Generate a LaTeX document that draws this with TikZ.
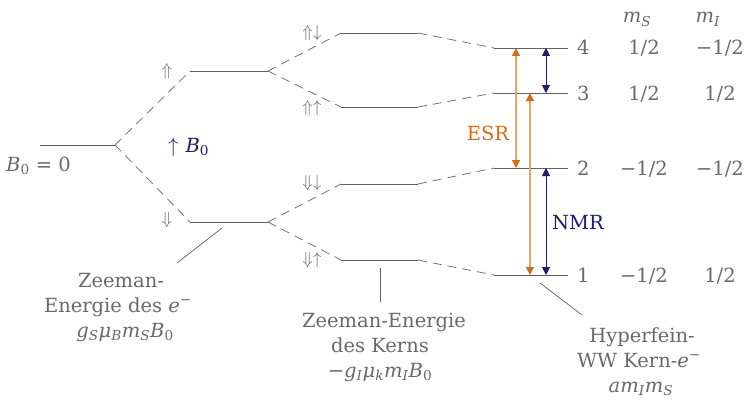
\documentclass[tikz,border=0pt]{standalone}
\usepackage{fontspec}
\setmainfont{DejaVu Serif}
\usetikzlibrary{arrows.meta}
\definecolor{tgray}{RGB}{105,105,105}
\definecolor{lgray}{RGB}{95,95,95}
\definecolor{dgray}{RGB}{115,115,115}
\definecolor{navy}{RGB}{28,28,115}
\definecolor{esr}{RGB}{215,110,20}
\definecolor{esrl}{RGB}{234,165,105}
\newcommand{\iv}[1]{\textit{#1}}
\newcommand{\sbi}[1]{\textsubscript{\textit{#1}}}
\newcommand{\sbr}[1]{\textsubscript{#1}}
\begin{document}
\begin{tikzpicture}[x=1pt,y=-1pt,
  every node/.style={inner sep=0pt, text=tgray},
  txt/.style={font=\fontsize{19.5}{25}\selectfont},
  spin/.style={font=\fontsize{19}{19}\selectfont},
  lvl/.style={draw=lgray, line width=0.9pt},
  dsh/.style={draw=dgray, line width=0.8pt, dash pattern=on 9pt off 6pt},
  ann/.style={draw=lgray, line width=0.7pt},
  esrarrow/.style={draw=esrl, line width=1.3pt,
    arrows={Triangle[width=8pt,length=8pt,color=esr]-Triangle[width=8pt,length=8pt,color=esr]}},
  nmrarrow/.style={draw=navy, line width=0.9pt,
    arrows={Triangle[width=8pt,length=8pt]-Triangle[width=8pt,length=8pt]}}
]
\useasboundingbox (0,0) rectangle (749,404);

% level coordinates
\coordinate (a0) at (40,145);  \coordinate (a1) at (115,145);
\coordinate (bu0) at (190,71); \coordinate (bu1) at (268,71);
\coordinate (bd0) at (190,222); \coordinate (bd1) at (268,222);
\coordinate (c1s) at (341,33);  \coordinate (c1e) at (418,33);
\coordinate (c2s) at (341,107); \coordinate (c2e) at (418,107);
\coordinate (c3s) at (341,184); \coordinate (c3e) at (418,184);
\coordinate (c4s) at (341,260); \coordinate (c4e) at (418,260);
\coordinate (L4s) at (494,48);  \coordinate (L4e) at (568,48);
\coordinate (L3s) at (494,93);  \coordinate (L3e) at (568,93);
\coordinate (L2s) at (494,168); \coordinate (L2e) at (568,168);
\coordinate (L1s) at (494,275); \coordinate (L1e) at (568,275);

% solid levels
\draw[lvl] (a0) -- (a1);
\draw[lvl] (bu0) -- (bu1);
\draw[lvl] (bd0) -- (bd1);
\draw[lvl] (c1s) -- (c1e);
\draw[lvl] (c2s) -- (c2e);
\draw[lvl] (c3s) -- (c3e);
\draw[lvl] (c4s) -- (c4e);
\draw[lvl] (L4s) -- (L4e);
\draw[lvl] (L3s) -- (L3e);
\draw[lvl] (L2s) -- (L2e);
\draw[lvl] (L1s) -- (L1e);

% dashed connections
\draw[dsh] (a1) -- (bu0);
\draw[dsh] (a1) -- (bd0);
\draw[dsh] (bu1) -- (c1s);
\draw[dsh] (bu1) -- (c2s);
\draw[dsh] (bd1) -- (c3s);
\draw[dsh] (bd1) -- (c4s);
\draw[dsh] (c1e) -- (L4s);
\draw[dsh] (c2e) -- (L3s);
\draw[dsh] (c3e) -- (L2s);
\draw[dsh] (c4e) -- (L1s);

% spin labels
\node[spin] (s1) at (167,71) {$\Uparrow$};
\node[spin] (s2) at (167,220) {$\Downarrow$};
\node[spin] (s3) at (312,33) {$\Uparrow\downarrow$};
\node[spin] (s4) at (312,108) {$\Uparrow\uparrow$};
\node[spin] (s5) at (312,183) {$\Downarrow\downarrow$};
\node[spin] (s6) at (312,260) {$\Downarrow\uparrow$};

% B0 labels
\node[txt, anchor=base west] (b0) at (6,171) {\iv{B}\sbr{0} = 0};
\node[txt, anchor=base west, text=navy] (bfield) at (168,152) {$\uparrow$\hspace{7pt}\iv{B}\sbr{0}};

% transitions
\coordinate (e4) at (516,48);  \coordinate (e2) at (516,168);
\coordinate (f3) at (530,93);  \coordinate (f1) at (530,275);
\coordinate (g4) at (546,48);  \coordinate (g3) at (546,93);
\coordinate (g2) at (546,168); \coordinate (g1) at (546,275);
\draw[esrarrow] (e4) -- (e2);
\draw[esrarrow] (f3) -- (f1);
\draw[nmrarrow] (g4) -- (g3);
\draw[nmrarrow] (g2) -- (g1);
\node[txt, anchor=base, text=esr] (esrlab) at (488,140) {ESR};
\node[txt, anchor=base, text=navy] (nmrlab) at (578,229) {NMR};

% level numbers and table
\node[txt, anchor=base west] (n4) at (577,55) {4};
\node[txt, anchor=base west] (n3) at (577,100) {3};
\node[txt, anchor=base west] (n2) at (577,175) {2};
\node[txt, anchor=base west] (n1) at (577,282) {1};
\node[txt, anchor=base] (hS) at (637,23) {\iv{m}\sbi{S}};
\node[txt, anchor=base] (hI) at (708,23) {\iv{m}\sbi{I}};
\node[txt, anchor=base] (r4s) at (644,55) {1/2};
\node[txt, anchor=base] (r4i) at (720,55) {−1/2};
\node[txt, anchor=base] (r3s) at (644,100) {1/2};
\node[txt, anchor=base] (r3i) at (720,100) {1/2};
\node[txt, anchor=base] (r2s) at (644,175) {−1/2};
\node[txt, anchor=base] (r2i) at (720,175) {−1/2};
\node[txt, anchor=base] (r1s) at (644,282) {−1/2};
\node[txt, anchor=base] (r1i) at (720,282) {1/2};

% annotations
\coordinate (za) at (222,228); \coordinate (zb) at (177,263);
\draw[ann] (za) -- (zb);
\node[txt, anchor=base] (ze1) at (121,287) {Zeeman-};
\node[txt, anchor=base] (ze2) at (118,312) {Energie des \iv{e}\textsuperscript{−}};
\node[txt, anchor=base] (ze3) at (125,337) {\iv{g}\sbi{S}\iv{μ}\sbi{B}\iv{m}\sbi{S}\iv{B}\sbr{0}};

\coordinate (ka) at (380,268); \coordinate (kb) at (380,302);
\draw[ann] (ka) -- (kb);
\node[txt, anchor=base] (zk1) at (384,327) {Zeeman-Energie};
\node[txt, anchor=base] (zk2) at (380,352) {des Kerns};
\node[txt, anchor=base] (zk3) at (380,377) {−\iv{g}\sbi{I}\iv{μ}\sbi{k}\iv{m}\sbi{I}\iv{B}\sbr{0}};

\coordinate (ha) at (540,283); \coordinate (hb) at (582,315);
\draw[ann] (ha) -- (hb);
\node[txt, anchor=base] (hy1) at (642,342) {Hyperfein-};
\node[txt, anchor=base] (hy2) at (639,367) {WW Kern-\iv{e}\textsuperscript{−}};
\node[txt, anchor=base] (hy3) at (641,392) {\iv{a}\iv{m}\sbi{I}\iv{m}\sbi{S}};
\end{tikzpicture}
\end{document}
